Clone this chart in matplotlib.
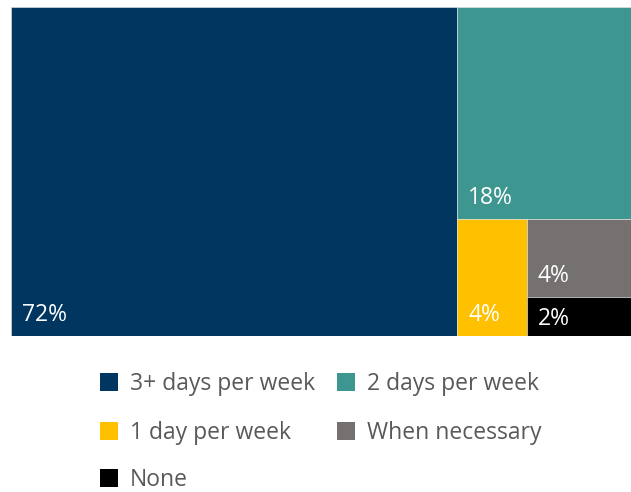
import matplotlib.pyplot as plt
from matplotlib.patches import Rectangle
import matplotlib.transforms as mtransforms

labels = ['3+ days per week', '2 days per week', '1 day per week', 'When necessary', 'None']
values = [72, 18, 4, 4, 2]
colors = ['#003660', '#3E9690', '#FFC000', '#767171', '#000000']

plt.rcParams['font.family'] = ['Open Sans', 'DejaVu Sans']

fig = plt.figure(figsize=(6.31, 4.92), dpi=100)
W, H = 631, 492
ax = fig.add_axes([11 / W, (H - 336) / H, 620 / W, 329 / H])
ax.set_xlim(0, 100)
ax.set_ylim(100, 0)
ax.axis('off')


# slice and dice: take first item, split along alternating direction
def layout(vals, x, y, w, h, horiz, out):
    if len(vals) == 1:
        out.append((x, y, w, h))
        return
    frac = vals[0] / sum(vals)
    if horiz:
        out.append((x, y, w * frac, h))
        layout(vals[1:], x + w * frac, y, w * (1 - frac), h, False, out)
    else:
        out.append((x, y, w, h * frac))
        layout(vals[1:], x, y + h * frac, w, h * (1 - frac), True, out)


rects = []
layout(values, 0, 0, 100, 100, True, rects)

for (x, y, w, h), v, c in zip(rects, values, colors):
    ax.add_patch(Rectangle((x, y), w, h, facecolor=c, edgecolor='#e8e8e8', linewidth=0.4))
    hpx = h / 100 * 329
    dy = min(15, (hpx - 17) / 2) * 0.72
    tr = ax.transData + mtransforms.ScaledTranslation(11 / 100, dy / 72, fig.dpi_scale_trans)
    ax.text(x, y + h, f'{v}%', transform=tr, color='white', fontsize=16.5,
            ha='left', va='baseline')

# legend, row by row
sq = 18
for i, (lab, c) in enumerate(zip(labels, colors)):
    row, col = i // 2, i % 2
    sx = [100, 337][col]
    cy = [382, 431, 478][row]
    fig.patches.append(Rectangle((sx / W, (H - cy - sq / 2) / H), sq / W, sq / H,
                                 facecolor=c, transform=fig.transFigure, figure=fig))
    fig.text((sx + 30) / W, (H - cy - 2) / H, lab, color='#595959', fontsize=16.5,
             ha='left', va='center')

fig.savefig('out.png', dpi=100)
